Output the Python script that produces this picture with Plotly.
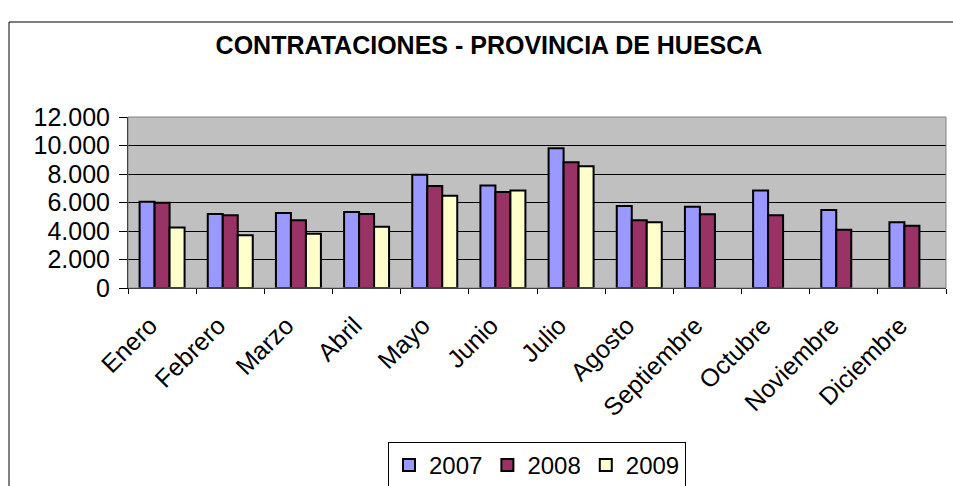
import plotly.graph_objects as go

months = ["Enero", "Febrero", "Marzo", "Abril", "Mayo", "Junio", "Julio",
          "Agosto", "Septiembre", "Octubre", "Noviembre", "Diciembre"]
v2007 = [6050, 5200, 5270, 5340, 7950, 7200, 9800, 5760, 5710, 6850, 5480, 4620]
v2008 = [5990, 5100, 4760, 5200, 7160, 6740, 8830, 4760, 5180, 5100, 4080, 4360]
v2009 = [4240, 3700, 3800, 4290, 6480, 6850, 8550, 4620, None, None, None, None]

FONT = "Arial, Liberation Sans, sans-serif"

fig = go.Figure()
for name, vals, col in [("2007", v2007, "#9999FF"), ("2008", v2008, "#993366"), ("2009", v2009, "#FFFFCC")]:
    fig.add_trace(go.Bar(x=months, y=vals, name=name,
                         marker=dict(color=col, line=dict(color="black", width=2))))

W, H = 953, 486
L, R, T, B = 128, 946, 117, 288
pw, ph = R - L, B - T

def px(x):
    return (x - L) / pw

def py(y):
    return (B - y) / ph

fig.update_layout(
    width=W, height=H,
    margin=dict(l=L, r=W - R, t=T, b=H - B, autoexpand=False),
    paper_bgcolor="white",
    plot_bgcolor="#C0C0C0",
    separators=",.",
    barmode="group",
    bargap=0.34,
    bargroupgap=0,
    font=dict(family=FONT, color="black", size=25),
    title=dict(text="<b>CONTRATACIONES - PROVINCIA DE HUESCA</b>",
               x=px(489), xanchor="center", xref="paper",
               y=1 - 45 / H, yanchor="middle",
               font=dict(family=FONT, size=25, color="black")),
    showlegend=True,
    legend=dict(orientation="h", x=0.5, xanchor="center",
                yref="container", y=1 - 442 / H, yanchor="top",
                bordercolor="black", borderwidth=1, bgcolor="white",
                font=dict(family=FONT, size=24), itemwidth=30,
                tracegroupgap=0, traceorder="normal"),
    xaxis=dict(tickangle=-45, showline=True, linecolor="black", linewidth=1,
               ticks="outside", tickson="boundaries", ticklen=5, tickcolor="black",
               ticklabelstandoff=12, ticklabelshift=-12,
               showgrid=False, tickfont=dict(family=FONT, size=25), mirror=False),
    yaxis=dict(range=[0, 12000], dtick=2000, tickformat=",d",
               showline=True, linecolor="black", linewidth=1,
               ticks="outside", ticklen=8, tickcolor="black", ticklabelstandoff=4,
               showgrid=True, gridcolor="black", gridwidth=1,
               zeroline=False, tickfont=dict(family=FONT, size=25)),
    shapes=[
        dict(type="rect", xref="paper", yref="paper", x0=0, x1=1, y0=0, y1=1,
             line=dict(color="#808080", width=1), fillcolor="rgba(0,0,0,0)", layer="above"),
        dict(type="rect", xref="paper", yref="paper", x0=px(9), x1=px(965), y0=py(500), y1=py(22),
             line=dict(color="black", width=1), fillcolor="rgba(0,0,0,0)", layer="below"),
    ],
)

fig.write_html("out.html", config={"displayModeBar": False},
               post_script="document.body.style.margin='0';document.body.style.overflow='hidden';")
